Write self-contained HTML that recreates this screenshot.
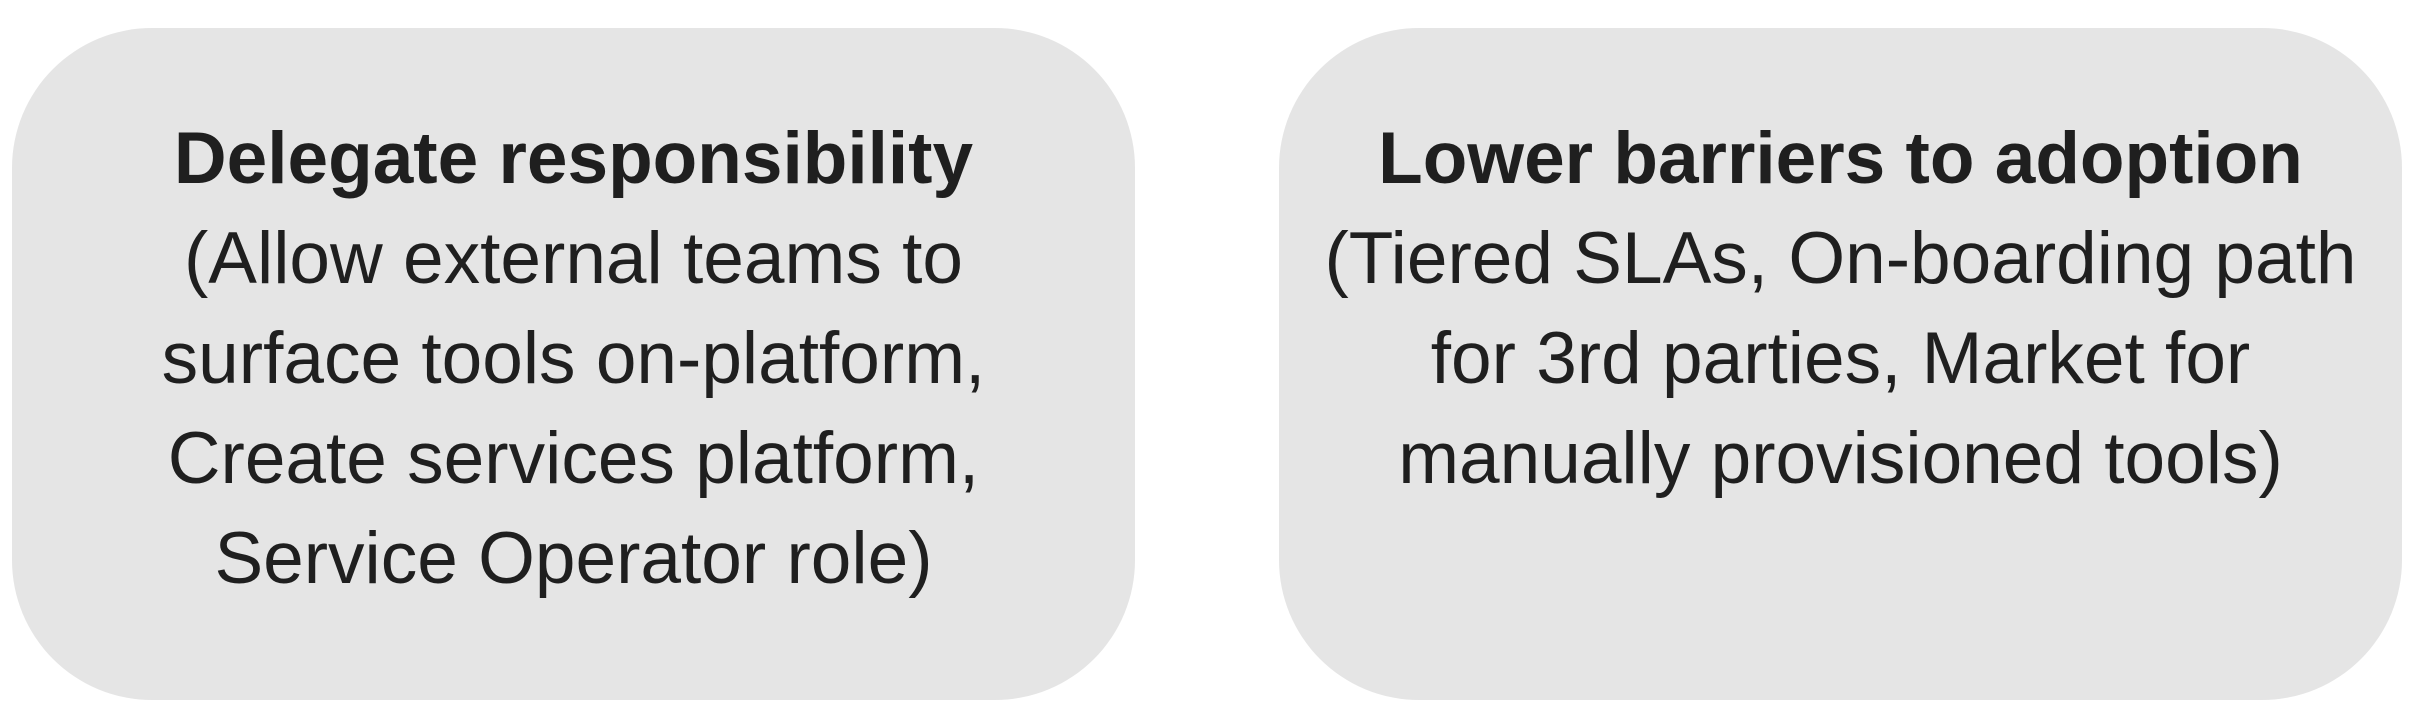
<!DOCTYPE html>
<html><head><meta charset="utf-8"><style>
html,body{margin:0;padding:0;background:#fff;width:2414px;height:716px;overflow:hidden}
.box{position:absolute;top:28px;height:672px;width:1123px;background:#e5e5e5;border-radius:140px}
.txt{position:absolute;left:0;right:0;top:81px;text-align:center;font-family:"Liberation Sans",sans-serif;font-size:73px;line-height:100px;color:#1f1f1f;white-space:nowrap}
.t{font-weight:bold}
</style></head><body>
<div class="box" style="left:12px">
<div class="txt">
<div class="t">Delegate responsibility</div>
<div>(Allow external teams to</div>
<div>surface tools on-platform,</div>
<div>Create services platform,</div>
<div>Service Operator role)</div>
</div></div>
<div class="box" style="left:1279px">
<div class="txt">
<div class="t">Lower barriers to adoption</div>
<div>(Tiered SLAs, On-boarding path</div>
<div>for 3rd parties, Market for</div>
<div>manually provisioned tools)</div>
</div></div>
</body></html>
